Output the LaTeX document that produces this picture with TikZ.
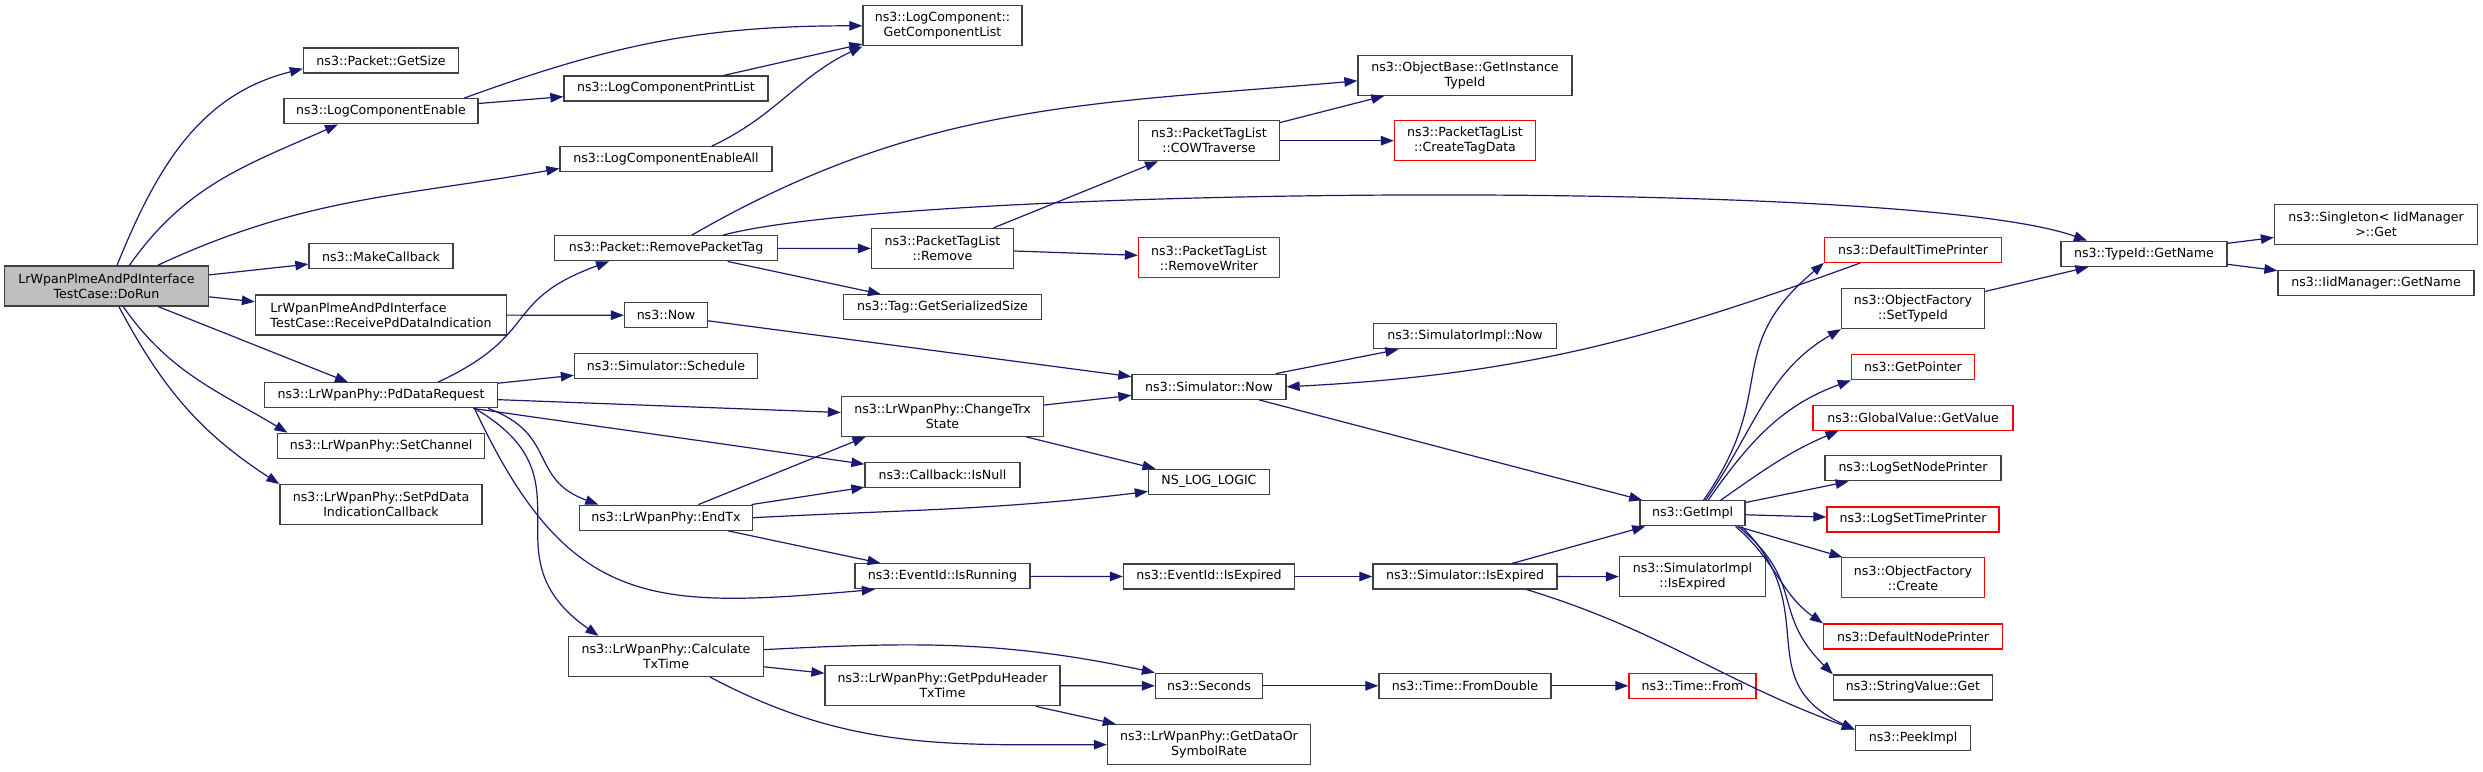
\documentclass[tikz,border=0pt]{standalone}
\usepackage{fontspec}
\setmainfont{DejaVu Sans}
\usetikzlibrary{arrows.meta,positioning}
\definecolor{callblue}{HTML}{191970}
\definecolor{rootgray}{HTML}{BFBFBF}
\newcommand{\fnfont}{\fontsize{12.6}{15}\selectfont}

\begin{document}
\begin{tikzpicture}[
  x=1pt, y=-1pt,
  fn/.style={rectangle, draw=black!75, line width=1.3pt, fill=white, font=\fnfont, inner sep=0pt, minimum height=25pt, align=center},
  fn2/.style={fn, minimum height=40pt},
  trunc/.style={draw=red},
  root/.style={fill=rootgray},
  call/.style={->, draw=callblue, line width=1.2pt},
  >={Triangle[length=13pt,width=9.5pt]}
]
  \useasboundingbox (0,0) rectangle (2483,771);
  % column 1 and 2
  \node[fn2, root, minimum width=204pt] (dorun) at (106.5,286) {LrWpanPlmeAndPdInterface\\TestCase::DoRun};
  \node[fn, minimum width=155pt] (getsize) at (381,60.5) {ns3::Packet::GetSize};
  \node[fn, minimum width=194pt] (logenable) at (381,111.3) {ns3::LogComponentEnable};
  \node[fn, minimum width=144pt] (makecb) at (381,256.3) {ns3::MakeCallback};
  \node[fn2, align=left, minimum width=251pt] (recvpd) at (381,315) {LrWpanPlmeAndPdInterface\\TestCase::ReceivePdDataIndication};
  \node[fn, minimum width=233pt] (pdreq) at (381,395.3) {ns3::LrWpanPhy::PdDataRequest};
  \node[fn, minimum width=207pt] (setchan) at (381,445.8) {ns3::LrWpanPhy::SetChannel};
  \node[fn2, minimum width=202pt] (setpdcb) at (381,504.7) {ns3::LrWpanPhy::SetPdData\\IndicationCallback};
  % column 3
  \node[fn, minimum width=204pt] (printlist) at (666,88.5) {ns3::LogComponentPrintList};
  \node[fn, minimum width=212pt] (enableall) at (666,159.2) {ns3::LogComponentEnableAll};
  \node[fn, minimum width=223pt] (rmtag) at (666,248.3) {ns3::Packet::RemovePacketTag};
  \node[fn, minimum width=83pt] (now) at (666,315.3) {ns3::Now};
  \node[fn, minimum width=183pt] (schedule) at (666,365.8) {ns3::Simulator::Schedule};
  \node[fn, minimum width=173pt] (endtx) at (666,517.7) {ns3::LrWpanPhy::EndTx};
  \node[fn2, minimum width=195pt] (calctx) at (666,656.5) {ns3::LrWpanPhy::Calculate\\TxTime};
  % column 4
  \node[fn2, minimum width=159pt] (complist) at (942.5,25.8) {ns3::LogComponent::\\GetComponentList};
  \node[fn2, minimum width=142pt] (ptlremove) at (942.5,248.5) {ns3::PacketTagList\\::Remove};
  \node[fn, minimum width=198pt] (tagsize) at (942.5,307.3) {ns3::Tag::GetSerializedSize};
  \node[fn2, minimum width=202pt] (chtrx) at (942.5,416.3) {ns3::LrWpanPhy::ChangeTrx\\State};
  \node[fn, minimum width=155pt] (isnull) at (942.5,475.2) {ns3::Callback::IsNull};
  \node[fn, minimum width=175pt] (isrunning) at (942.5,576.3) {ns3::EventId::IsRunning};
  \node[fn2, minimum width=235pt] (ppduhdr) at (942.5,685.7) {ns3::LrWpanPhy::GetPpduHeader\\TxTime};
  % column 5
  \node[fn2, minimum width=141pt] (cowtrav) at (1209,140.7) {ns3::PacketTagList\\::COWTraverse};
  \node[fn2, trunc, minimum width=141pt] (rmwriter) at (1209,257.8) {ns3::PacketTagList\\::RemoveWriter};
  \node[fn, minimum width=154pt] (simnow) at (1209,386.8) {ns3::Simulator::Now};
  \node[fn, minimum width=121pt] (nslog) at (1209,481.8) {NS\_LOG\_LOGIC};
  \node[fn, minimum width=171pt] (isexpired) at (1209,576.5) {ns3::EventId::IsExpired};
  \node[fn, minimum width=107pt] (seconds) at (1209,685.8) {ns3::Seconds};
  \node[fn2, minimum width=203pt] (datarate) at (1209,744.7) {ns3::LrWpanPhy::GetDataOr\\SymbolRate};
  % column 6
  \node[fn2, minimum width=214pt] (instid) at (1465,75.2) {ns3::ObjectBase::GetInstance\\TypeId};
  \node[fn2, trunc, minimum width=141pt] (createtag) at (1465,140.7) {ns3::PacketTagList\\::CreateTagData};
  \node[fn, minimum width=183pt] (implnow) at (1465,336.3) {ns3::SimulatorImpl::Now};
  \node[fn, minimum width=184pt] (simexpired) at (1465,576.5) {ns3::Simulator::IsExpired};
  \node[fn, minimum width=172pt] (fromdouble) at (1465,685.8) {ns3::Time::FromDouble};
  % column 7
  \node[fn, minimum width=105pt] (getimpl) at (1692.5,513.3) {ns3::GetImpl};
  \node[fn2, minimum width=146pt] (implexpired) at (1692.5,576.7) {ns3::SimulatorImpl\\::IsExpired};
  \node[fn, trunc, minimum width=127pt] (timefrom) at (1692.5,685.8) {ns3::Time::From};
  % column 8
  \node[fn, trunc, minimum width=177pt] (dtprinter) at (1913,249.8) {ns3::DefaultTimePrinter};
  \node[fn2, minimum width=143pt] (settypeid) at (1913,308.5) {ns3::ObjectFactory\\::SetTypeId};
  \node[fn, trunc, minimum width=123pt] (getpointer) at (1913,367.2) {ns3::GetPointer};
  \node[fn, trunc, minimum width=200pt] (globalval) at (1913,417.7) {ns3::GlobalValue::GetValue};
  \node[fn, minimum width=176pt] (setnodepr) at (1913,468.3) {ns3::LogSetNodePrinter};
  \node[fn, trunc, minimum width=172pt] (settimepr) at (1913,519.5) {ns3::LogSetTimePrinter};
  \node[fn2, trunc, minimum width=143pt] (ofcreate) at (1913,577.8) {ns3::ObjectFactory\\::Create};
  \node[fn, trunc, minimum width=179pt] (dnprinter) at (1913,636.5) {ns3::DefaultNodePrinter};
  \node[fn, minimum width=159pt] (strget) at (1913,687.5) {ns3::StringValue::Get};
  \node[fn, minimum width=115pt] (peekimpl) at (1913,737.8) {ns3::PeekImpl};
  % columns 9 and 10
  \node[fn, minimum width=166pt] (tidname) at (2144,253.8) {ns3::TypeId::GetName};
  \node[fn2, minimum width=203pt] (singleton) at (2376,224.7) {ns3::Singleton< IidManager\\>::Get};
  \node[fn, minimum width=196pt] (iidname) at (2376,283) {ns3::IidManager::GetName};

  % calls made by the test case
  \draw[call] (dorun.63) to[out=68,in=194] (getsize.186);
  \draw[call] (dorun.42) to[out=55,in=204] (logenable.197);
  \draw[call] (dorun.22) to[out=25,in=190] (enableall.185);
  \draw[call] (dorun) -- (makecb);
  \draw[call] (dorun) -- (recvpd);
  \draw[call] (dorun) -- (pdreq);
  \draw[call] (dorun.-51) to[out=-55,in=149] (setchan.172);
  \draw[call] (dorun.-59) to[out=-62,in=147] (setpdcb.north west);
  % logging
  \draw[call] (logenable.9) to[out=20,in=180] (complist.west);
  \draw[call] (logenable) -- (printlist);
  \draw[call] (printlist) -- (complist);
  \draw[call] (enableall.16) to[out=25,in=205] (complist.south west);
  \draw[call] (recvpd) -- (now);
  % phy data request
  \draw[call] (pdreq.13) to[out=25,in=200,looseness=1.4] (rmtag.193);
  \draw[call] (pdreq) -- (schedule);
  \draw[call] (pdreq) -- (chtrx);
  \draw[call] (pdreq) -- (isnull);
  \draw[call] (pdreq.-7) to[out=-20,in=160,looseness=1.3] (endtx.169);
  \draw[call] (pdreq.-8) to[out=-65,in=185,looseness=1.3] (isrunning.191);
  \draw[call] (pdreq.-8) to[out=-30,in=145,looseness=1.4] (calctx.163);
  % packet tags
  \draw[call] (rmtag.27) to[out=30,in=185] (instid.183);
  \draw[call] (rmtag.13) .. controls +(182,-49) and +(-177,-64) .. (tidname.167);
  \draw[call] (rmtag) -- (ptlremove);
  \draw[call] (rmtag) -- (tagsize);
  \draw[call] (ptlremove) -- (cowtrav);
  \draw[call] (ptlremove) -- (rmwriter);
  \draw[call] (cowtrav) -- (instid);
  \draw[call] (cowtrav) -- (createtag);
  % simulator
  \draw[call] (now) -- (simnow);
  \draw[call] (chtrx) -- (simnow);
  \draw[call] (chtrx) -- (nslog);
  \draw[call] (endtx) -- (chtrx.195);
  \draw[call] (endtx) -- (isnull);
  \draw[call] (endtx.east) to[out=3,in=187] (nslog.189);
  \draw[call] (endtx) -- (isrunning);
  \draw[call] (isrunning) -- (isexpired);
  \draw[call] (isexpired) -- (simexpired);
  \draw[call] (simexpired) -- (getimpl);
  \draw[call] (simexpired) -- (implexpired);
  \draw[call] (simexpired.-12) to[out=-17,in=160] (peekimpl.172);
  \draw[call] (simnow) -- (implnow);
  \draw[call] (simnow) -- (getimpl);
  \draw[call] (dtprinter.194) .. controls +(-216,79) and +(230,-12) .. (simnow.east);
  % GetImpl fan
  \draw[call] (getimpl.50) to[out=55,in=220,looseness=1.3] (dtprinter.south west);
  \draw[call] (getimpl.45) to[out=55,in=210] (settypeid.south west);
  \draw[call] (getimpl.40) to[out=55,in=200] (getpointer.south west);
  \draw[call] (getimpl.25) to[out=35,in=203] (globalval.190);
  \draw[call] (getimpl) -- (setnodepr);
  \draw[call] (getimpl) -- (settimepr);
  \draw[call] (getimpl) -- (ofcreate);
  \draw[call] (getimpl.-17) to[out=-40,in=145] (dnprinter.north west);
  \draw[call] (getimpl.-16) to[out=-40,in=135,looseness=1.3] (strget.north west);
  \draw[call] (getimpl.-15) to[out=-45,in=155,looseness=1.3] (peekimpl.172);
  \draw[call] (settypeid) -- (tidname);
  \draw[call] (tidname) -- (singleton);
  \draw[call] (tidname) -- (iidname);
  % time
  \draw[call] (calctx.4) to[out=3,in=168] (seconds.north west);
  \draw[call] (calctx) -- (ppduhdr);
  \draw[call] (calctx.-25) to[out=-28,in=180] (datarate.west);
  \draw[call] (ppduhdr) -- (seconds);
  \draw[call] (ppduhdr) -- (datarate);
  \draw[call] (seconds) -- (fromdouble);
  \draw[call] (fromdouble) -- (timefrom);
\end{tikzpicture}
\end{document}
